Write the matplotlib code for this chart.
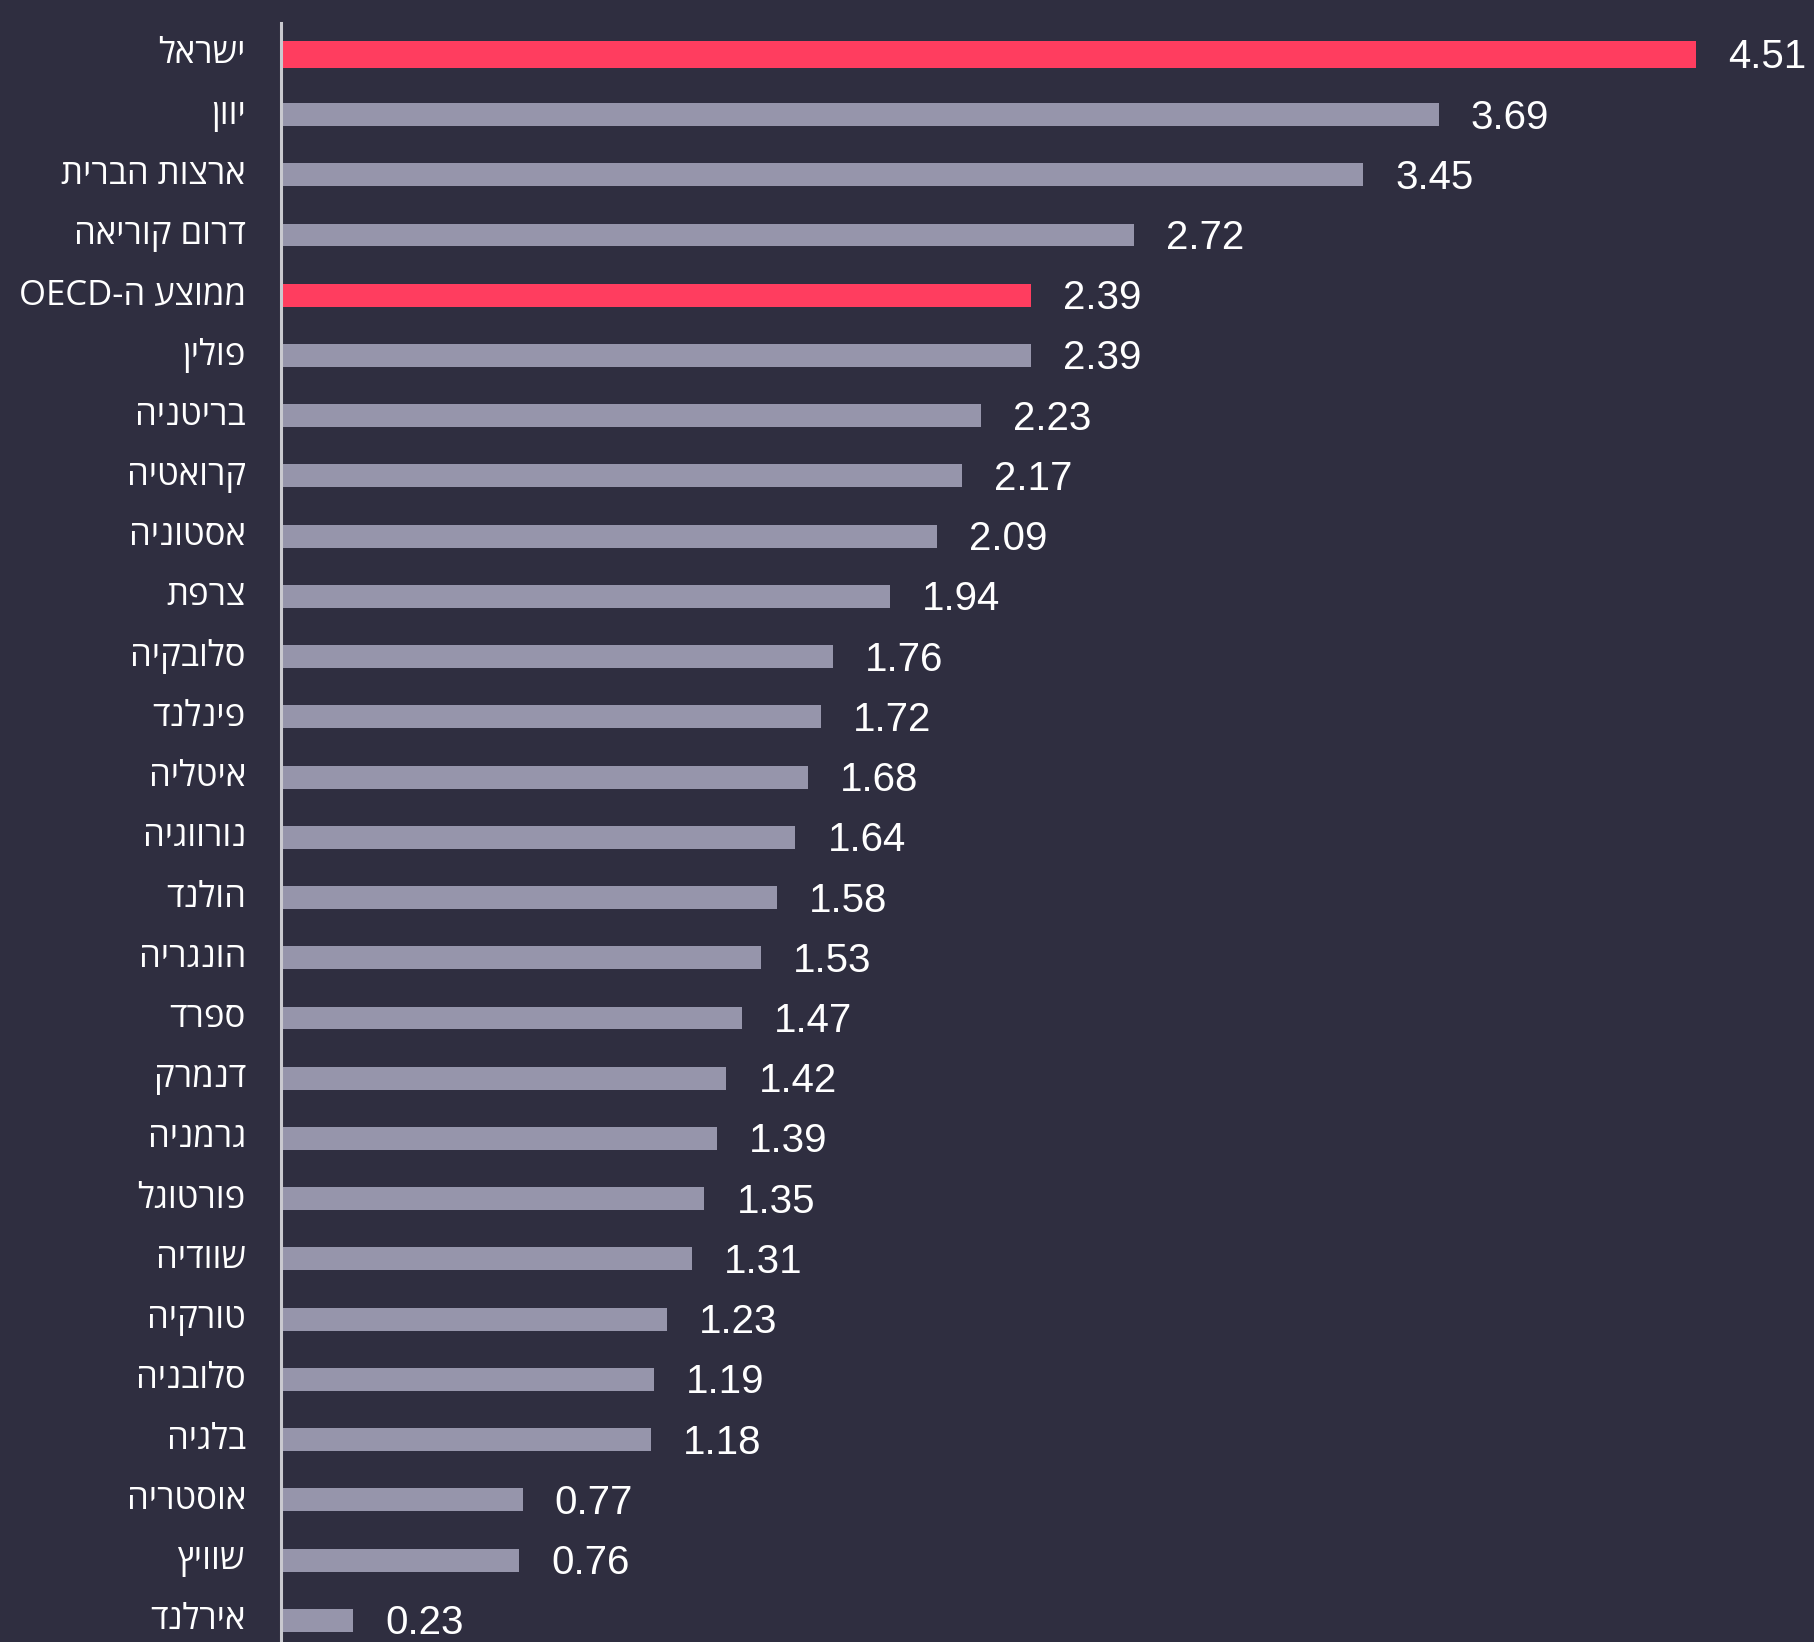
import matplotlib
matplotlib.use("Agg")
import matplotlib.pyplot as plt
import re

# Data (top to bottom as shown)
countries = ["ישראל", "יוון", "ארצות הברית", "דרום קוריאה", "ממוצע ה-OECD", "פולין",
             "בריטניה", "קרואטיה", "אסטוניה", "צרפת", "סלובקיה", "פינלנד", "איטליה",
             "נורווגיה", "הולנד", "הונגריה", "ספרד", "דנמרק", "גרמניה", "פורטוגל",
             "שוודיה", "טורקיה", "סלובניה", "בלגיה", "אוסטריה", "שוויץ", "אירלנד"]
values = [4.51, 3.69, 3.45, 2.72, 2.39, 2.39, 2.23, 2.17, 2.09, 1.94, 1.76, 1.72, 1.68,
          1.64, 1.58, 1.53, 1.47, 1.42, 1.39, 1.35, 1.31, 1.23, 1.19, 1.18, 0.77, 0.76, 0.23]
highlight = ["ישראל", "ממוצע ה-OECD"]

BG = "#2f2e40"
RED = "#ff3d5f"
GREY = "#9695ab"


def visual(s):
    # matplotlib has no bidi: reverse, then put latin runs back in order
    r = s[::-1]
    return re.sub(r"[A-Za-z0-9]+", lambda m: m.group(0)[::-1], r)


fig = plt.figure(figsize=(18.15, 16.42), dpi=100, facecolor=BG)
ax = fig.add_axes([281 / 1815, 0, 1 - 281 / 1815, (1642 - 23) / 1642])
ax.set_facecolor(BG)

ypos = list(range(len(countries)))
colors = [RED if c in highlight else GREY for c in countries]
heights = [0.44 if c == "ישראל" else 0.38 for c in countries]
ax.barh(ypos, values, height=heights, color=colors, edgecolor="none")

for y, v, c in zip(ypos, values, countries):
    ax.text(v + 0.102, y + 0.05, f"{v:.2f}", va="center", ha="left", color="white",
            fontsize=29, family=["Liberation Sans Narrow", "Liberation Sans"])
    ax.text(-0.112, y, visual(c), va="center", ha="right", color="white",
            fontsize=25, family=["Open Sans", "DejaVu Sans"], clip_on=False)

ax.set_xlim(0, 4.89)
ax.set_ylim(26.36, -0.52)
ax.set_xticks([])
ax.set_yticks([])
for s in ["top", "right", "bottom"]:
    ax.spines[s].set_visible(False)
ax.spines["left"].set_color("#c9c9cf")
ax.spines["left"].set_linewidth(2.2)

fig.savefig("out.png", dpi=100, facecolor=BG)
